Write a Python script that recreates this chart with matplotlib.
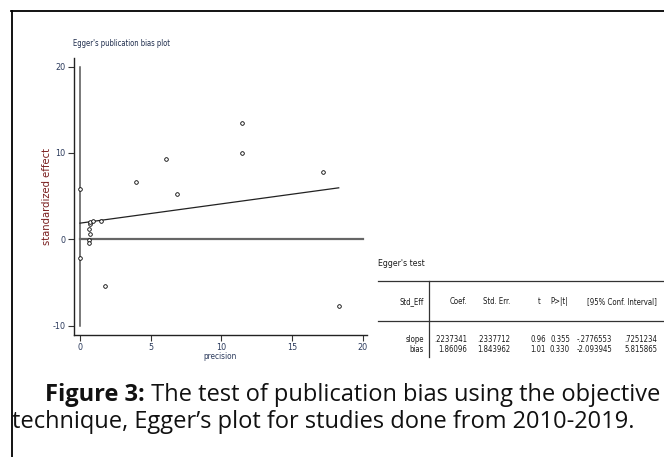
import matplotlib
matplotlib.use("Agg")
import matplotlib.pyplot as plt
from matplotlib.lines import Line2D
from matplotlib import font_manager as fm
import numpy as np

plt.rcParams['axes.unicode_minus'] = False

# ---- data ----
precision = [0.0, 0.0, 3.96, 6.08, 6.83, 11.45, 11.45, 17.2, 18.3, 1.79,
             0.70, 0.72, 0.94, 0.64, 0.70, 0.66, 0.66, 1.48]
std_effect = [5.78, -2.13, 6.63, 9.27, 5.23, 13.5, 9.97, 7.8, -7.7, -5.38,
              1.80, 2.00, 2.10, 1.24, 0.58, -0.10, -0.45, 2.13]
slope = 0.2237341
bias = 1.86096
x_ticks = [0, 5, 10, 15, 20]
y_ticks = [-10, 0, 10, 20]

table_header = ["Std_Eff", "Coef.", "Std. Err.", "t", "P>|t|", "[95% Conf. Interval]"]
row_labels = ["slope", "bias"]
coef = [".2237341", "1.86096"]
stderr = [".2337712", "1.843962"]
tvals = ["0.96", "1.01"]
pvals = ["0.355", "0.330"]
ci_low = ["-.2776553", "-2.093945"]
ci_high = [".7251234", "5.815865"]

W, H = 664, 457
fig = plt.figure(figsize=(W / 100, H / 100), dpi=100)

def fx(px):
    return px / W

def fy(py):
    return 1 - py / H

# pick a narrow font if one is installed
names = {f.name for f in fm.fontManager.ttflist}
cond_dejavu = any(f.name == 'DejaVu Sans' and f.stretch in ('condensed', 'semi-condensed')
                  for f in fm.fontManager.ttflist)
if 'Liberation Sans Narrow' in names:
    NF = dict(family=['Liberation Sans Narrow', 'DejaVu Sans'])
    scale = 1.0
elif cond_dejavu:
    NF = dict(family=['DejaVu Sans'], stretch='condensed')
    scale = 0.92
else:
    NF = dict(family=['Liberation Sans', 'DejaVu Sans'])
    scale = 0.85

tick_col = '#2b3a5c'

ax = fig.add_axes([fx(73.5), fy(335), fx(367) - fx(73.5), fy(58) - fy(335)])
ax.set_xlim(-0.46, 20.3)
ax.set_ylim(-11.1, 21.0)
for s in ['top', 'right']:
    ax.spines[s].set_visible(False)
for s in ['left', 'bottom']:
    ax.spines[s].set_linewidth(1.0)
    ax.spines[s].set_color('#222222')

# reference lines
ax.plot([0, 0], [-10, 20], color='#555555', lw=1.1, zorder=1)
ax.plot([0, 20], [0, 0], color='#666666', lw=1.6, zorder=1)
# regression line
xr = np.array([0, max(precision)])
ax.plot(xr, bias + slope * xr, color='#222222', lw=0.9, zorder=2)

ax.plot(precision, std_effect, linestyle='none', marker='o', markersize=2.6,
        mfc='white', mec='black', mew=0.6, zorder=3)

ax.set_xticks(x_ticks)
ax.set_yticks(y_ticks)
ax.tick_params(axis='both', direction='out', length=4, width=0.8, colors='#333333',
               labelsize=6.5 * scale + 0.5, labelcolor=tick_col, pad=2)
for lab in ax.get_xticklabels() + ax.get_yticklabels():
    lab.set_fontproperties(fm.FontProperties(size=6.5 * scale + 0.5, **NF))
ax.set_xlabel('precision', fontsize=6.5 * scale, color=tick_col, labelpad=0, **NF)
ax.set_ylabel('standardized effect', fontsize=7.2, color='#7a1f1f', labelpad=0)

fig.text(fx(73), fy(43), "Egger's publication bias plot", fontsize=6.0 * scale, color='#1f2d4d',
         va='center', ha='left', **NF)

# ---- Egger's test table ----
tfs = 6.1 * scale
tc = '#1a1a1a'
fig.text(fx(378), fy(263), "Egger's test", fontsize=tfs + 0.6, color=tc, va='center', **NF)
fig.add_artist(Line2D([fx(378), fx(664)], [fy(280.7), fy(280.7)], color='#333333', lw=0.9))
fig.add_artist(Line2D([fx(378), fx(664)], [fy(321), fy(321)], color='#333333', lw=0.9))
fig.add_artist(Line2D([fx(429), fx(429)], [fy(280.7), fy(357)], color='#333333', lw=0.9))

hy = 302
hdr_x = [424, 467, 510, 541, 568, 657]
for txt, xx in zip(table_header, hdr_x):
    fig.text(fx(xx), fy(hy), txt, fontsize=tfs, color=tc, ha='right', va='center', **NF)

row_y = [339, 349]
col_x = [467, 510, 546, 570, 612, 657]
for i, lab in enumerate(row_labels):
    fig.text(fx(424), fy(row_y[i]), lab, fontsize=tfs, color=tc, ha='right', va='center', **NF)
    vals = [coef[i], stderr[i], tvals[i], pvals[i], ci_low[i], ci_high[i]]
    for v, xx in zip(vals, col_x):
        fig.text(fx(xx), fy(row_y[i]), v, fontsize=tfs, color=tc, ha='right', va='center', **NF)

# ---- border ----
fig.add_artist(Line2D([fx(11), fx(664)], [fy(10.5), fy(10.5)], color='black', lw=1.3))
fig.add_artist(Line2D([fx(11.5), fx(11.5)], [fy(10.5), fy(457)], color='black', lw=1.3))

# ---- caption ----
cap_font = ['Open Sans', 'DejaVu Sans']
cfs = 17.0
renderer = fig.canvas.get_renderer()
t1 = fig.text(fx(45), fy(395), "Figure 3:", fontsize=cfs, fontweight='bold', family=cap_font,
              color='#111111', va='center', ha='left')
bb = t1.get_window_extent(renderer=renderer)
fig.text(bb.x1 / W, fy(395), " The test of publication bias using the objective", fontsize=cfs,
         family=cap_font, color='#111111', va='center', ha='left')
fig.text(fx(12), fy(422), "technique, Egger\u2019s plot for studies done from 2010-2019.", fontsize=cfs,
         family=cap_font, color='#111111', va='center', ha='left')

fig.savefig('out.png', dpi=100)
